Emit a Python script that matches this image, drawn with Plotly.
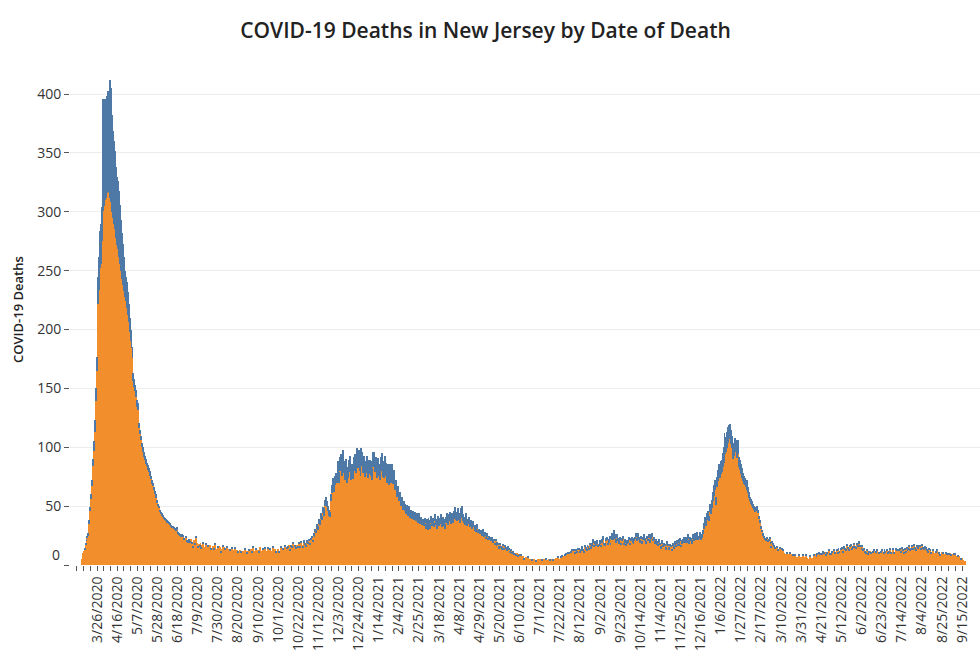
import pandas as pd
import plotly.graph_objects as go

START_DATE = "2020-03-10"

# Confirmed deaths per day, one sub-list per calendar month (Mar 2020 starts on the 10th)
CONFIRMED = [
    [5,10,12,13,17,21,23,25,35,46,56,67,84,97,113,139,165,222,234,252,256,275],
    [301,305,310,312,316,318,317,315,312,308,300,295,290,285,278,272,268,262,256,250,243,238,233,228,224,218,212,206,198,190],
    [184,176,156,151,148,143,134,132,116,111,106,100,96,92,89,86,84,81,79,76,73,69,67,64,62,60,57,53,50,48,45],
    [43,42,41,39,39,38,36,36,35,34,32,32,32,31,30,29,30,28,27,26,25,24,25,24,22,22,23,20,19,21],
    [19,22,18,15,21,17,23,19,15,18,16,19,14,17,18,13,15,17,13,16,14,17,13,12,16,13,17,14,12,15,16],
    [15,11,14,16,10,15,13,12,15,10,14,12,9,14,11,13,14,10,13,11,9,13,11,8,12,10,13,9,12,10,12],
    [12,9,14,11,15,12,10,13,9,13,11,15,12,9,13,11,14,12,10,14,12,10,13,9,12,15,10,14,11,12],
    [14,11,12,15,12,13,10,16,13,14,15,17,12,16,14,15,18,13,16,14,17,15,18,15,19,17,15,19,17,16,19],
    [18,20,17,21,23,20,25,24,28,27,31,30,35,34,39,38,44,42,50,52,49,46,42,41,54,61,66,62,68,70],
    [70,74,78,70,80,84,76,86,78,72,80,70,74,79,82,72,76,73,80,84,78,87,82,86,80,76,85,84,78,83,75],
    [78,82,74,77,80,76,72,83,84,79,82,74,80,76,72,80,83,75,79,74,81,76,70,77,68,75,70,76,69,72,64],
    [64,58,60,54,56,50,52,47,49,46,46,43,45,42,44,40,42,39,42,38,40,37,40,36,39,35,37,34],
    [35,33,36,31,34,30,35,33,31,36,33,35,32,37,34,31,36,33,35,37,32,36,33,31,36,38,34,37,39,35,38],
    [38,36,39,41,38,37,41,38,36,40,41,37,36,34,38,33,35,36,32,34,31,33,32,29,31,28,31,27,28,26],
    [27,25,27,24,25,22,24,21,23,21,20,22,19,20,17,20,16,18,17,14,17,15,13,16,13,15,14,12,14,13,11],
    [12,10,11,9,10,8,10,7,9,8,7,8,6,8,5,6,7,4,6,5,3,5,4,3,5,4,3,4,5,3],
    [5,3,4,2,4,5,3,5,4,3,5,4,3,5,4,5,3,6,4,6,5,4,6,7,8,6,8,7,9,8,10],
    [10,8,11,12,9,12,10,12,10,13,13,11,12,14,12,11,15,13,12,15,14,13,17,14,16,19,15,18,16,18,15],
    [16,18,15,19,21,17,16,20,21,17,19,22,17,21,23,21,25,22,19,23,20,18,21,17,20,22,17,19,16,18],
    [19,21,17,20,22,19,18,20,22,24,20,23,21,19,22,18,21,23,20,18,22,20,23,19,22,24,20,21,18,20,17],
    [18,16,19,17,14,18,15,17,16,13,17,16,13,16,15,12,16,14,17,15,18,16,19,16,20,15,18,19,21,19],
    [21,19,22,18,21,20,18,22,20,23,21,24,21,22,24,21,23,24,26,31,35,33,38,40,37,45,43,48,54,59,64],
    [51,66,71,75,74,77,79,83,87,98,94,96,99,104,107,109,103,99,90,93,96,96,91,94,83,81,77,74,71,69,68],
    [66,64,66,61,57,54,52,50,48,47,45,46,47,44,39,36,31,28,25,23,22,21,22,20,21,22,18,15],
    [19,17,16,14,13,15,12,13,14,11,13,12,10,9,8,10,7,9,10,7,9,8,7,6,8,7,5,7,8,5,7],
    [7,8,5,7,8,6,5,4,7,6,4,6,8,6,9,7,9,8,10,9,7,9,11,10,11,8,10,11,12,9],
    [9,11,8,12,10,9,12,10,13,11,9,13,14,11,14,13,12,16,14,12,15,16,13,15,17,15,14,17,16,18,15],
    [16,13,15,12,13,11,10,12,9,11,12,10,9,11,12,9,11,12,9,10,9,11,12,9,10,12,11,9,12,10],
    [11,13,10,11,13,10,11,13,12,10,12,13,11,14,12,10,13,11,14,12,13,15,12,13,15,13,16,14,12,15,14],
    [16,15,13,16,14,13,15,14,12,11,13,11,12,10,11,12,10,9,11,12,9,10,8,9,11,10,9,8,10,9,10],
    [9,10,8,9,8,9,7,9,8,6,7,8,6,5,6,4,3,3],
]

# Probable deaths per day, same layout
PROBABLE = [
    [0,0,0,1,1,1,2,2,3,3,4,5,6,8,10,11,12,23,28,32,34,29],
    [95,89,86,83,82,85,84,94,100,97,82,74,70,67,60,58,58,56,50,43,39,35,29,22,21,22,20,16,12,10],
    [8,9,7,7,5,6,6,6,5,4,4,4,4,4,4,4,3,4,3,4,3,3,3,2,3,3,3,2,2,2,2],
    [2,2,1,2,1,1,2,1,1,1,2,1,1,1,1,1,2,1,1,1,1,1,1,1,1,0,1,1,1,1],
    [1,0,1,1,0,1,1,0,1,0,1,0,1,0,1,0,0,1,0,1,0,0,1,0,0,1,1,0,0,1,0],
    [0,1,0,1,0,0,1,0,1,0,0,1,0,1,0,0,1,0,0,1,0,0,1,0,0,0,1,0,0,1,0],
    [1,0,0,1,1,0,0,1,0,0,1,0,0,0,1,0,1,0,0,1,0,0,1,0,0,1,0,0,1,0],
    [0,1,0,1,0,1,0,1,0,1,1,0,1,1,0,1,1,0,1,1,0,1,1,1,1,0,1,2,1,1,2],
    [1,2,1,2,2,1,2,3,3,3,4,3,4,4,5,4,5,6,5,6,5,4,5,4,6,7,8,7,8,8],
    [8,9,10,9,12,10,11,12,10,11,10,12,9,10,11,12,10,11,12,10,13,12,11,12,10,11,14,12,11,10,11],
    [10,11,10,12,9,12,10,13,12,11,10,12,11,10,9,12,12,10,9,13,12,11,10,9,10,11,9,10,11,9,8],
    [8,9,7,8,6,7,6,7,5,6,6,5,6,5,6,5,5,6,4,5,5,5,4,4,5,4,4,4],
    [4,5,4,4,5,4,5,5,4,6,5,5,4,6,5,5,6,4,5,6,5,5,6,4,5,6,5,6,6,5,6],
    [6,5,7,8,7,5,7,6,5,8,9,6,5,5,6,5,4,5,4,4,5,4,4,4,3,3,4,3,3,3],
    [3,3,4,3,3,2,3,2,2,3,2,2,3,2,2,2,2,1,2,2,2,1,2,2,1,2,1,1,2,1,1],
    [1,1,1,1,0,1,0,1,0,1,0,1,0,0,1,0,0,0,1,0,0,0,1,0,0,0,1,0,0,0],
    [0,0,1,0,0,0,0,1,0,0,0,1,0,0,1,0,0,0,0,1,0,0,1,1,0,0,1,0,1,0,1],
    [1,0,1,1,0,1,1,1,2,1,1,1,1,2,2,1,2,2,1,2,2,1,2,2,3,3,2,2,2,3,2],
    [2,3,2,3,4,2,3,3,3,2,3,3,2,3,4,4,5,4,3,3,3,4,3,2,3,3,2,3,2,3],
    [2,3,2,3,2,3,2,3,2,3,3,4,3,2,3,2,3,3,3,2,3,2,3,3,4,3,2,3,2,2,2],
    [2,2,3,2,2,3,2,2,2,2,3,2,2,2,2,2,3,2,3,2,3,2,3,3,3,2,3,3,3,4],
    [3,3,4,3,3,3,3,4,3,4,3,4,4,3,4,4,3,4,4,5,6,5,6,6,5,7,6,7,8,9,8],
    [7,9,10,11,10,11,10,12,13,14,12,13,14,13,12,11,12,11,10,11,12,10,11,12,9,8,9,8,7,7,6],
    [6,6,6,5,5,4,4,4,4,3,3,3,3,3,3,2,2,2,2,2,1,1,2,1,1,2,1,1],
    [1,1,1,1,0,1,1,0,1,0,1,1,0,0,0,1,0,0,1,0,0,1,0,0,1,0,0,0,1,0,0],
    [0,1,0,0,1,0,0,0,1,0,0,0,1,0,0,1,1,0,1,1,0,1,1,1,0,1,1,0,1,1],
    [1,1,0,1,1,0,1,1,1,1,0,1,1,1,2,1,1,2,1,1,2,2,1,1,2,1,1,2,1,2,2],
    [1,1,2,1,1,1,1,1,1,1,0,1,0,1,1,0,1,1,0,1,0,1,1,0,1,1,1,0,1,1],
    [1,1,1,0,1,1,0,1,1,0,1,1,1,1,1,1,1,1,1,1,1,2,1,1,2,1,2,1,1,2,1],
    [1,2,1,2,1,1,1,1,1,1,1,0,1,1,0,1,0,0,1,1,0,1,1,0,0,1,0,0,1,1,0],
    [1,0,1,0,0,1,0,1,0,0,1,0,0,1,0,0,0,0],
]

X_TICK_LABELS = [
    "3/26/2020", "4/16/2020", "5/7/2020", "5/28/2020", "6/18/2020", "7/9/2020",
    "7/30/2020", "8/20/2020", "9/10/2020", "10/1/2020", "10/22/2020", "11/12/2020",
    "12/3/2020", "12/24/2020", "1/14/2021", "2/4/2021", "2/25/2021", "3/18/2021",
    "4/8/2021", "4/29/2021", "5/20/2021", "6/10/2021", "7/1/2021", "7/22/2021",
    "8/12/2021", "9/2/2021", "9/23/2021", "10/14/2021", "11/4/2021", "11/25/2021",
    "12/16/2021", "1/6/2022", "1/27/2022", "2/17/2022", "3/10/2022", "3/31/2022",
    "4/21/2022", "5/12/2022", "6/2/2022", "6/23/2022", "7/14/2022", "8/4/2022",
    "8/25/2022", "9/15/2022",
]
Y_TICKS = [0, 50, 100, 150, 200, 250, 300, 350, 400]

# ---- validate month lengths ----
months = pd.period_range("2020-03", "2022-09", freq="M")
for i, (m, c, p) in enumerate(zip(months, CONFIRMED, PROBABLE)):
    exp = m.days_in_month
    if i == 0:
        exp = m.days_in_month - 9
    if i == len(months) - 1:
        exp = 18
    if len(c) != exp or len(p) != exp:
        raise ValueError(f"month {m}: conf {len(c)} prob {len(p)} expected {exp}")

conf = [v for month in CONFIRMED for v in month]
prob = [v for month in PROBABLE for v in month]
dates = pd.date_range(START_DATE, periods=len(conf), freq="D")

ORANGE = "#F28E2B"
BLUE = "#4E79A7"
FONT = "Open Sans"

fig = go.Figure()
fig.add_trace(go.Bar(x=dates, y=conf, name="Confirmed", marker=dict(color=ORANGE, line=dict(width=0)),
                     width=86400000))
fig.add_trace(go.Bar(x=dates, y=prob, name="Probable", marker=dict(color=BLUE, line=dict(width=0)),
                     width=86400000))

# pixel geometry of the plot area
L, R, T, B = 70, 0, 47, 88
plot_w = 980 - L - R
first_center_px = 81.7
px_per_day = 0.958
d0 = pd.Timestamp(START_DATE)
x_start = d0 - pd.Timedelta(days=(first_center_px - L) / px_per_day)
x_end = d0 + pd.Timedelta(days=(980 - R - first_center_px) / px_per_day)

tick_dates = pd.to_datetime(X_TICK_LABELS, format="%m/%d/%Y")
minor_dates = pd.date_range("2020-03-05", "2022-09-15", freq="7D")

fig.update_layout(
    barmode="stack",
    bargap=0,
    showlegend=False,
    width=980,
    height=653,
    margin=dict(l=L, r=R, t=T, b=B, autoexpand=False),
    plot_bgcolor="white",
    paper_bgcolor="white",
    font=dict(family=FONT, color="#333333"),
    title=dict(
        text="COVID-19 Deaths in New Jersey by Date of Death",
        x=485.5 / 980, xanchor="center", xref="container",
        y=1 - 31 / 653, yanchor="middle", yref="container",
        font=dict(family=FONT, size=21, color="#222222", weight=600),
    ),
    xaxis=dict(
        type="date",
        range=[x_start, x_end],
        tickmode="array",
        tickvals=tick_dates,
        ticktext=X_TICK_LABELS,
        tickangle=-90,
        ticks="outside",
        ticklen=5,
        tickwidth=1,
        tickcolor="#555555",
        tickfont=dict(family=FONT, size=14, color="#333333"),
        showgrid=False,
        showline=False,
        zeroline=False,
        automargin=False,
        minor=dict(tickmode="array", tickvals=minor_dates, ticks="outside",
                   ticklen=5, tickwidth=1, tickcolor="#555555", showgrid=False),
    ),
    yaxis=dict(
        range=[0, 440],
        tickmode="array",
        tickvals=Y_TICKS,
        ticktext=["" if v == 0 else str(v) for v in Y_TICKS],
        ticks="outside",
        ticklen=5,
        tickwidth=1,
        tickcolor="#555555",
        tickfont=dict(family=FONT, size=14, color="#333333"),
        showgrid=True,
        gridcolor="#ededed",
        gridwidth=1,
        zeroline=False,
        showline=False,
        automargin=False,
    ),
)

fig.add_annotation(text="0", xref="paper", yref="y", x=0, y=8.5,
                   xanchor="right", yanchor="middle", xshift=-8, showarrow=False,
                   font=dict(family=FONT, size=14, color="#333333"))
fig.add_annotation(text="COVID-19 Deaths", xref="paper", yref="paper",
                   x=(18 - L) / plot_w, y=(565 - 310) / (565 - T),
                   xanchor="center", yanchor="middle", textangle=-90, showarrow=False,
                   font=dict(family=FONT, size=13, color="#222222", weight=600))

fig.write_html("out.html")
